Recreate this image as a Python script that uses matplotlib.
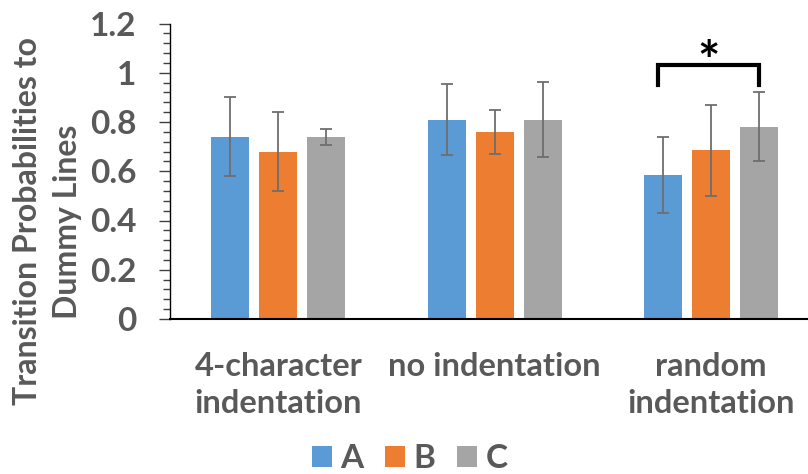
import numpy as np
import matplotlib
matplotlib.use("Agg")
import matplotlib.pyplot as plt
from matplotlib.ticker import MultipleLocator

# data
categories = ['4-character\nindentation', 'no indentation', 'random\nindentation']
series_names = ['A', 'B', 'C']
values_a = [0.74, 0.81, 0.585]
values_b = [0.68, 0.76, 0.685]
values_c = [0.74, 0.81, 0.78]
err_a = [0.16, 0.145, 0.153]
err_b = [0.16, 0.088, 0.184]
err_c = [0.033, 0.152, 0.14]

colors = ['#5B9BD5', '#ED7D31', '#A5A5A5']
text_color = '#595959'

plt.rcParams['font.family'] = ['Lato', 'DejaVu Sans']
plt.rcParams['font.weight'] = 'bold'

fig = plt.figure(figsize=(8.08, 4.74), dpi=100)
ax = fig.add_axes([170 / 808, 155 / 474, 638 / 808, 295.5 / 474])

x = np.arange(len(categories))
width = 0.175
step = 0.2217

all_vals = [values_a, values_b, values_c]
all_errs = [err_a, err_b, err_c]
for i, (vals, errs) in enumerate(zip(all_vals, all_errs)):
    ax.bar(x + (i - 1) * step, vals, width, color=colors[i], label=series_names[i],
           yerr=errs, capsize=4, zorder=2,
           error_kw=dict(ecolor='#6e6e6e', elinewidth=1.3, capthick=1.3))

# significance bracket between A and C in the last group
bx0, bx1 = x[2] - step - 0.025, x[2] + step
ax.plot([bx0, bx0, bx1, bx1], [0.95, 1.03, 1.03, 0.95], color='black', lw=3,
        solid_joinstyle='miter', clip_on=False)
ax.text((bx0 + bx1) / 2, 1.035, '*', ha='center', va='center', fontsize=38,
        fontweight='bold', color='black')

ax.set_ylim(0, 1.2)
ax.set_xlim(-0.5, -0.5 + 638 / 216.5)
ax.yaxis.set_minor_locator(MultipleLocator(0.04))
ax.set_yticks([0, 0.2, 0.4, 0.6, 0.8, 1.0, 1.2])
ax.set_yticklabels(['0', '0.2', '0.4', '0.6', '0.8', '1', '1.2'])
ax.tick_params(axis='y', which='major', length=8, width=1, color='#404040',
               labelsize=24, labelcolor=text_color, pad=16)
ax.tick_params(axis='y', which='minor', length=5, width=1, color='#404040')
ax.set_xticks(x)
ax.set_xticklabels(categories, fontsize=23.5, color=text_color, linespacing=1.3)
ax.tick_params(axis='x', length=0, pad=24)

for s in ['top', 'right']:
    ax.spines[s].set_visible(False)
ax.spines['left'].set_color('black')
ax.spines['left'].set_linewidth(1)
ax.spines['bottom'].set_color('black')
ax.spines['bottom'].set_linewidth(1.5)

ax.set_ylabel('Transition Probabilities to\nDummy Lines', fontsize=23,
              color=text_color, fontweight='bold', linespacing=1.45)
ax.yaxis.set_label_coords(-0.138, 0.33)

fig.legend(loc='center', bbox_to_anchor=(410 / 808, 15 / 474), ncol=3, frameon=False,
           fontsize=24, handlelength=0.6, handleheight=0.6, handletextpad=0.25,
           columnspacing=0.65, labelcolor=text_color)

fig.savefig('out.png', dpi=100)
